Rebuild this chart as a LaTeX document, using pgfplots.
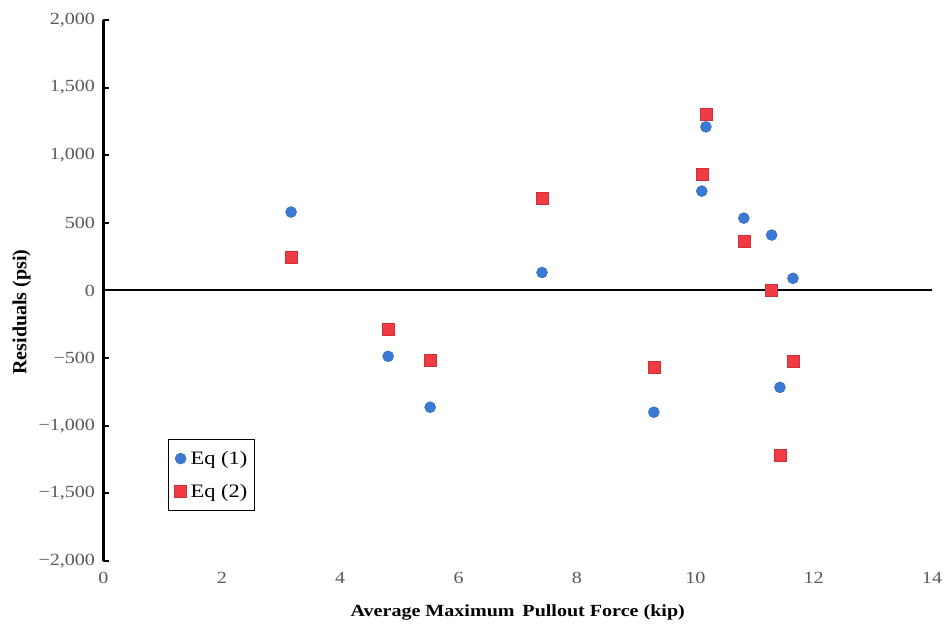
\documentclass[border=0pt]{standalone}
\usepackage{pgfplots}
\pgfplotsset{compat=1.18}
\usetikzlibrary{calc}
\usepackage{fontspec}
\setmainfont{Liberation Serif}[FakeStretch=1.18]
\newfontfamily\vlabel{Liberation Serif}
\definecolor{eqblue}{RGB}{58,122,214}
\definecolor{eqred}{RGB}{240,58,68}
\begin{document}
\begin{tikzpicture}
\begin{axis}[
  scale only axis, width=828.5pt, height=541pt,
  xmin=0, xmax=14, ymin=-2000, ymax=2000,
  xtick={0,2,...,14},
  ytick={-2000,-1500,-1000,-500,0,500,1000,1500,2000},
  yticklabels={{−2,000},{−1,500},{−1,000},{−500},{0},{500},{1,000},{1,500},{2,000}},
  axis y line*=left, axis x line*=bottom,
  x axis line style={draw=none},
  y axis line style={black, line width=2.2pt},
  xtick style={draw=none},
  ytick style={black, line width=1.8pt},
  tick align=inside, major tick length=6pt,
  /pgf/number format/assume math mode=true,
  ticklabel style={font=\fontsize{17}{17}\selectfont, text=black!65},
  yticklabel style={xshift=-5pt},
  xticklabel style={yshift=-8pt},
  xlabel={\textbf{Average Maximum\, Pullout Force (kip)}},
  ylabel={\vlabel\textbf{Residuals (psi)}},
  xlabel style={font=\fontsize{17}{17}\selectfont, yshift=-14pt},
  ylabel style={font=\fontsize{20}{20}\selectfont, at={($(rel axis cs:0,0.46)+(-82pt,0)$)}, anchor=center},
  legend style={at={(0.078,0.226)}, anchor=north west, draw=black, line width=1pt,
    font=\fontsize{19}{19}\selectfont, row sep=16pt, column sep=3pt, inner xsep=6pt, inner ysep=11pt,
    nodes={inner sep=1pt}},
  legend cell align=left,
  legend image code/.code={\draw[#1] (0.3cm,0cm) -- plot coordinates {(0.3cm,0cm)};},
  clip=false,
]
\addplot[black, line width=2pt, forget plot] coordinates {(0,0) (14,0)};
\addplot[only marks, mark=*, mark size=5.5pt, mark options={fill=eqblue, draw=eqblue!80!black, line width=0.4pt}]
  coordinates {
  (3.17,580) (4.81,-487) (5.52,-863) (7.41,133) (9.30,-900)
  (10.11,735) (10.18,1210) (10.82,535) (11.29,410) (11.43,-716) (11.65,90)
  };
\addlegendentry{Eq (1)}
\addplot[only marks, mark=square*, mark size=6pt, mark options={fill=eqred, draw=eqred!85!black, line width=0.4pt}]
  coordinates {
  (3.17,244) (4.81,-288) (5.52,-517) (7.42,679) (9.30,-568)
  (10.11,863) (10.18,1305) (10.82,362) (11.29,0) (11.43,-1218) (11.65,-524)
  };
\addlegendentry{Eq (2)}
\path (rel axis cs:0,0) ++(-103.5pt,-70pt) coordinate (bl);
\path (rel axis cs:1,1) ++(14pt,20pt) coordinate (tr);
\pgfresetboundingbox
\useasboundingbox (bl) rectangle (tr);
\end{axis}
\end{tikzpicture}
\end{document}
